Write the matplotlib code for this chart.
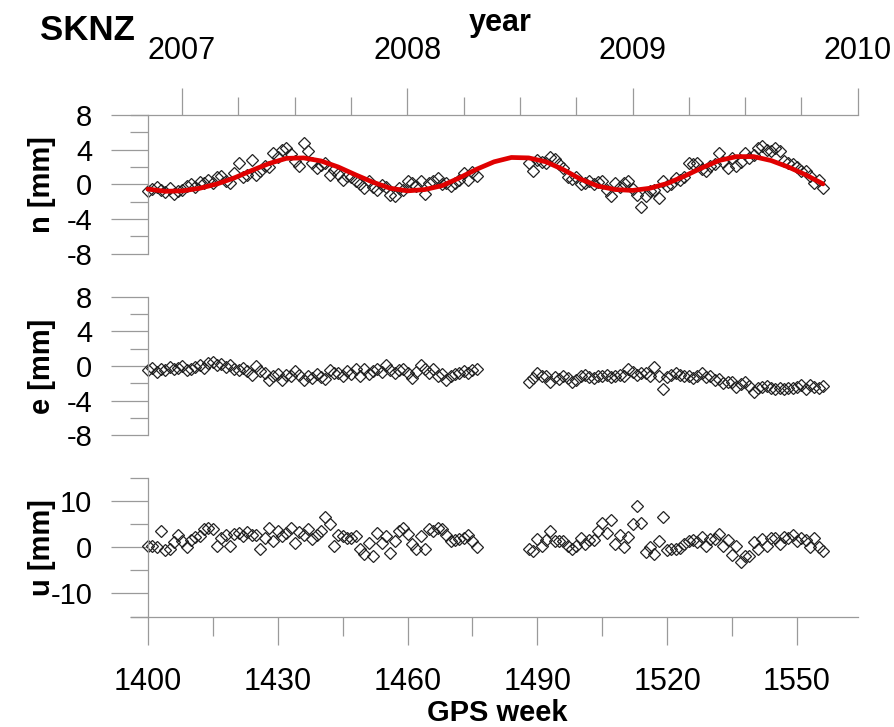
import matplotlib
matplotlib.use("Agg")
import matplotlib.pyplot as plt
import numpy as np
from matplotlib.ticker import MultipleLocator, FixedLocator, FormatStrFormatter

plt.rcParams['font.family'] = ['Liberation Sans', 'DejaVu Sans']
plt.rcParams['axes.unicode_minus'] = False

station = "SKNZ"

# weekly solutions come in two blocks, with a gap in between
start1 = 1400
start2 = 1488

n1 = [-0.8, -0.5, -0.3, -0.6, -0.9, -0.4, -1.1, -0.8, -0.6, -0.2,
      0.0, -0.3, 0.3, 0.1, 0.5, 0.2, 0.8, 1.0, 0.4, 0.15,
      1.3, 2.5, 0.9, 1.1, 2.8, 1.1, 1.5, 2.1, 2.0, 3.6,
      3.2, 4.0, 4.2, 3.5, 2.65, 2.1, 4.8, 3.8, 2.5, 1.9,
      2.2, 2.5, 1.1, 1.6, 1.2, 0.5, 1.0, 0.9, 0.4, 0.0,
      -0.4, 0.35, -0.3, -0.6, -0.1, -0.25, -1.2, -1.4, -0.4, -0.7,
      0.35, 0.15, -0.2, 0.4, -1.1, 0.15, 0.35, 0.7, 0.0, 0.2,
      -0.15, 0.15, 0.5, 1.3, 0.55, 1.4, 1.0]
n2 = [2.5, 1.5, 2.8, 2.6, 2.5, 3.2, 2.9, 2.4, 1.9, 0.8,
      0.6, 0.8, 0.0, 0.2, 0.4, 0.0, 0.3, 0.4, -0.6, -1.4,
      0.15, -0.3, 0.2, 0.35, -0.5, -1.2, -2.6, -1.4, -0.8, -0.6,
      -1.6, 0.35, -0.2, 0.0, 0.75, 0.5, 0.9, 2.5, 2.3, 2.5,
      1.8, 1.5, 2.1, 2.4, 3.6, 2.6, 1.9, 3.0, 2.1, 2.6,
      3.6, 3.0, 3.4, 4.2, 4.4, 4.0, 3.9, 4.2, 3.8, 2.65,
      2.5, 2.3, 2.0, 1.5, 1.5, 1.0, 0.15, 0.55, -0.4]

e1 = [-0.45, -0.2, -0.7, -0.3, -0.5, -0.1, -0.4, -0.2, 0.0, -0.5,
      -0.3, -0.1, 0.1, -0.2, 0.3, 0.5, 0.1, 0.2, -0.1, 0.1,
      -0.3, -0.5, -0.2, -0.6, -1.0, 0.0, -0.6, -0.85, -1.6, -1.2,
      -0.9, -1.6, -1.0, -1.2, -0.6, -1.0, -1.6, -1.1, -1.4, -0.9,
      -1.3, -1.5, -0.5, -0.8, -0.85, -1.1, -0.6, -0.9, -0.3, -1.2,
      -0.3, -0.9, -0.6, -0.3, -0.7, 0.1, -0.5, -0.8, -0.45, -0.3,
      -0.8, -1.4, -0.7, 0.1, -0.4, -0.85, -0.3, -1.2, -0.9, -1.6,
      -1.1, -0.9, -0.8, -0.6, -0.85, -0.5, -0.4]
e2 = [-1.9, -1.4, -0.85, -1.1, -1.2, -1.8, -1.3, -1.5, -1.15, -1.4,
      -1.8, -1.6, -1.2, -1.05, -1.3, -1.4, -1.1, -1.2, -1.0, -1.3,
      -1.2, -1.0, -1.2, -0.4, -0.7, -1.0, -0.8, -0.85, -1.2, -0.15,
      -1.2, -2.6, -1.3, -1.0, -0.85, -1.0, -1.1, -1.2, -1.4, -1.1,
      -0.85, -1.3, -1.2, -1.6, -1.5, -2.0, -1.8, -1.9, -2.4, -2.1,
      -1.8, -2.3, -3.0, -2.5, -2.4, -2.3, -2.5, -2.6, -2.5, -2.6,
      -2.5, -2.5, -2.4, -2.2, -2.7, -2.2, -2.4, -2.5, -2.3]

u1 = [0.4, 0.2, 0.1, 3.5, -0.6, -0.4, 1.2, 2.6, 1.4, 0.1,
      1.7, 2.3, 2.5, 3.9, 4.3, 4.0, 0.3, 2.1, 2.8, 0.4,
      3.0, 3.2, 2.5, 3.3, 2.8, 2.6, -0.4, 2.1, 4.3, 1.4,
      3.5, 2.5, 3.2, 4.3, 1.0, 3.3, 2.8, 3.9, 1.9, 2.8,
      3.5, 6.7, 5.0, 0.3, 2.8, 2.5, 2.1, 2.1, 2.5, -0.4,
      -1.5, 1.0, -1.9, 3.2, 1.0, 2.5, -1.2, 1.4, 3.5, 4.3,
      3.0, 0.7, -0.3, 2.5, -0.3, 3.9, 3.5, 4.3, 4.0, 2.8,
      1.4, 1.7, 1.9, 2.1, 2.6, 1.4, 0.1]
u2 = [-0.3, -0.8, 1.9, 0.4, 1.7, 3.5, 1.4, 1.4, 1.4, 0.4,
      -0.4, 0.4, 2.1, 0.7, 1.6, 1.6, 3.5, 5.4, 3.2, 5.9,
      0.7, 2.6, 0.1, 2.3, 5.0, 9.0, 5.4, -1.0, 0.1, -1.5,
      1.4, 6.7, -0.6, -0.4, -0.3, -0.1, 0.7, 1.4, 1.7, 1.2,
      2.3, 0.4, 1.9, 1.9, 3.0, 0.3, 1.7, -1.7, 0.4, -3.2,
      -1.9, -1.9, 1.2, -0.3, 1.9, 0.4, 2.1, 2.1, 0.7, 2.3,
      2.1, 2.6, 1.4, 2.1, 1.7, 0.1, 2.1, 0.1, -0.8]

# seasonal model of the north component, every 4 weeks
fit_weeks = np.arange(1400, 1557, 4)
fit_n = [-0.55, -0.8, -0.75, -0.45, 0.05, 0.75, 1.6, 2.4, 3.0, 3.05,
         2.7, 2.0, 1.1, 0.25, -0.45, -0.75, -0.6, -0.15, 0.75, 1.75,
         2.6, 3.1, 3.05, 2.6, 1.7, 0.6, -0.2, -0.6, -0.7, -0.45,
         0.1, 0.95, 1.9, 2.75, 3.2, 3.2, 2.75, 2.0, 1.1, 0.05]

week_ticks = [1400, 1430, 1460, 1490, 1520, 1550]
week_minor = [1415, 1445, 1475, 1505, 1535]

# GPS week 1407.85 is the start of 2007
week_2007 = 1407.85
weeks_per_year = 52.07

def to_year(w):
    return 2007 + (w - week_2007) / weeks_per_year

gray = '#9a9a9a'
W, H = 895, 727
x_left, x_right = 131, 858
wk_min, wk_max = 1396.1, 1564.1

fig = plt.figure(figsize=(W / 100, H / 100), dpi=100)

def box(top, bottom):
    return [x_left / W, 1 - bottom / H, (x_right - x_left) / W, (bottom - top) / H]

ax_n = fig.add_axes(box(115, 253.7))
ax_e = fig.add_axes(box(296.7, 435.3))
ax_u = fig.add_axes(box(478.3, 616.5))

# year axis on top of the first panel
ax_t = ax_n.twiny()

panels = [
    (ax_n, n1, n2, 'n [mm]', 8, [-8, -4, 0, 4, 8], [-6, -2, 2, 6]),
    (ax_e, e1, e2, 'e [mm]', 8, [-8, -4, 0, 4, 8], [-6, -2, 2, 6]),
    (ax_u, u1, u2, 'u [mm]', 15, [-10, 0, 10], [-15, -5, 5, 15]),
]

for ax, s1, s2, lab, lim, major, minor in panels:
    w1 = start1 + np.arange(len(s1))
    w2 = start2 + np.arange(len(s2))
    for w, s in ((w1, s1), (w2, s2)):
        ax.plot(w, s, ls='none', marker='D', ms=6.0, mfc='none',
                mec='#222222', mew=0.9, zorder=2)
    ax.set_xlim(wk_min, wk_max)
    ax.set_ylim(-lim, lim)
    ax.patch.set_visible(False)
    for side in ('top', 'right', 'bottom'):
        ax.spines[side].set_visible(False)
    ax.spines['left'].set_position(('data', 1400))
    ax.spines['left'].set_color(gray)
    ax.spines['left'].set_linewidth(0.9)
    ax.yaxis.set_major_locator(FixedLocator(major))
    ax.yaxis.set_minor_locator(FixedLocator(minor))
    ax.tick_params(axis='y', which='major', direction='out', length=26.5,
                   width=0.9, color=gray, labelsize=21, pad=13.5)
    ax.tick_params(axis='y', which='minor', direction='out', length=13,
                   width=0.9, color=gray)
    ax.tick_params(axis='x', which='both', bottom=False, top=False,
                   labelbottom=False, labeltop=False)
    ax.set_ylabel(lab, fontsize=21, fontweight='bold', va='center')
    ax.yaxis.set_label_coords((42 - x_left) / (x_right - x_left), 0.5)

ax_n.plot(fit_weeks, fit_n, color='#e00000', lw=3.4, zorder=3,
          solid_capstyle='round')

# GPS week axis under the last panel
ax_u.spines['bottom'].set_visible(True)
ax_u.spines['bottom'].set_color(gray)
ax_u.spines['bottom'].set_linewidth(0.9)
ax_u.xaxis.set_major_locator(FixedLocator(week_ticks))
ax_u.xaxis.set_minor_locator(FixedLocator(week_minor))
ax_u.xaxis.set_major_formatter(FormatStrFormatter('%d'))
ax_u.tick_params(axis='x', which='major', bottom=True, labelbottom=True,
                 direction='out', length=20, width=0.9, color=gray,
                 labelsize=22, pad=16)
ax_u.tick_params(axis='x', which='minor', bottom=True, direction='out',
                 length=13.5, width=0.9, color=gray)
ax_u.set_xlabel('GPS week', fontsize=21, fontweight='bold', va='baseline')
ax_u.xaxis.set_label_coords((497 - x_left) / (x_right - x_left),
                            (616.5 - 721) / (616.5 - 478.3))

ax_t.set_xlim(to_year(wk_min), to_year(wk_max))
for side in ('left', 'right', 'bottom'):
    ax_t.spines[side].set_visible(False)
ax_t.spines['top'].set_color(gray)
ax_t.spines['top'].set_linewidth(0.9)
ax_t.xaxis.set_major_locator(MultipleLocator(1))
ax_t.xaxis.set_minor_locator(MultipleLocator(0.25))
ax_t.xaxis.set_major_formatter(FormatStrFormatter('%d'))
ax_t.tick_params(axis='x', which='major', direction='out', length=19.5,
                 width=0.9, color=gray, labelsize=22, pad=16)
ax_t.tick_params(axis='x', which='minor', direction='out', length=13,
                 width=0.9, color=gray)
ax_t.set_xlabel('year', fontsize=22, fontweight='bold', va='baseline')
ax_t.xaxis.set_label_coords((500 - x_left) / (x_right - x_left),
                            (253.7 - 31) / (253.7 - 115))

fig.text(40 / W, 1 - 40 / H, station, fontsize=25, fontweight='bold',
         ha='left', va='baseline')

fig.savefig('out.png', dpi=100)
